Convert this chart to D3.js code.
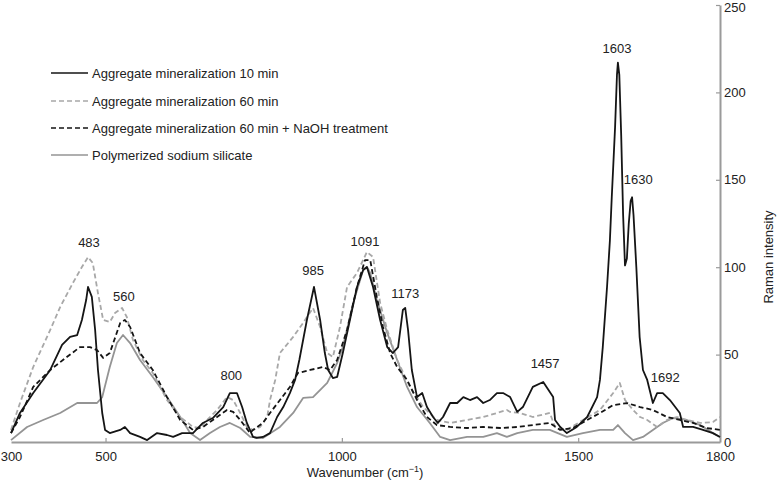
<!DOCTYPE html>
<html><head><meta charset="utf-8">
<script src="https://cdn.jsdelivr.net/npm/d3@7"></script>
<style>
html,body{margin:0;padding:0;background:#fff;}
text{font-family:"Liberation Sans",Arial,sans-serif;fill:#222;}
</style></head>
<body><svg id="c" width="777" height="481"></svg>
<script>
const xTicks = [300, 500, 1000, 1500, 1800];
const yTicks = [0, 50, 100, 150, 200, 250];
const seriesNames = ["Aggregate mineralization 10 min","Aggregate mineralization 60 min","Aggregate mineralization 60 min + NaOH treatment","Polymerized sodium silicate"];

const agg10 = [[300,5.1],[319,16.6],[347,28],[383,41.2],[408,55.5],[425,60.1],[440,61.2],[450,69.8],[459,81.2],[463,88.7],[471,83],[478,64.1],[484,41.2],[493,16.6],[499,6.9],[509,5.1],[531,6.9],[541,8.6],[552,5.1],[573,2.9],[588,1.1],[609,5.1],[630,4],[643,2.9],[662,5.1],[685,5.1],[706,10.9],[727,13.7],[749,20],[763,28],[778,28],[789,20],[799,10.9],[812,2.9],[820,2.3],[833,2.9],[848,5.1],[863,14.3],[876,20],[890,28],[901,35.5],[910,46.9],[926,69.8],[941,88.7],[954,69.8],[964,50.9],[971,41.2],[981,36.6],[990,37.2],[1002,50.9],[1017,69.8],[1032,88.7],[1045,98.4],[1053,100.1],[1066,88.7],[1081,69.8],[1096,54.3],[1108,50.9],[1119,54.3],[1129,75.5],[1134,76.7],[1140,64.1],[1148,41.2],[1159,25.7],[1170,28],[1180,20],[1193,14.3],[1203,10.9],[1214,14.3],[1229,22.3],[1244,22.3],[1257,25.7],[1271,24],[1286,25.7],[1299,22.3],[1313,24],[1328,28],[1341,28],[1356,25.7],[1371,17.2],[1383,20],[1404,31.5],[1426,34.3],[1447,25.7],[1451,12.6],[1462,8.6],[1476,5.1],[1497,8.6],[1519,14.3],[1540,25.7],[1546,35.5],[1552,54.3],[1561,88.7],[1567,115],[1571,140],[1574,157],[1578,180],[1582,210],[1584,217],[1587,210],[1591,175],[1595,130],[1599,101],[1603,105],[1607,125],[1611,138],[1614,140],[1617,130],[1623,100],[1630,60],[1637,41.2],[1646,35.5],[1658,22.3],[1667,28],[1679,28],[1694,24],[1715,16.6],[1722,8.6],[1743,8.6],[1764,6.9],[1785,5.1],[1800,2.9]];

const agg60 = [[300,6.9],[319,22.3],[347,42.9],[383,64.1],[404,77.2],[431,91],[450,100.1],[463,105.8],[473,102.4],[484,85.2],[495,69.8],[509,68.6],[520,73.8],[535,76.7],[545,71.5],[558,58.4],[579,46.9],[600,39.5],[630,24],[658,14.3],[685,8.6],[700,8],[715,12.6],[736,18.3],[757,25.7],[770,24],[785,16.6],[799,8.6],[812,6.9],[827,8.6],[842,14.3],[848,24],[859,35.5],[869,50.9],[897,60.1],[918,68.1],[939,76.7],[954,65.8],[969,50.9],[981,48.6],[996,65.8],[1011,88.7],[1032,96.7],[1053,108.7],[1066,105.8],[1081,79.5],[1096,64.1],[1117,46.9],[1144,31.5],[1172,20],[1201,12.6],[1229,10.9],[1265,12.6],[1299,14.3],[1328,16.6],[1349,18.3],[1356,17.2],[1377,16.6],[1404,14.3],[1440,16.6],[1451,8.6],[1476,6.9],[1510,12.6],[1546,18.3],[1574,28],[1588,33.8],[1599,24],[1616,18.3],[1631,14.3],[1646,12.6],[1667,8.6],[1688,12.6],[1709,14.3],[1730,12.6],[1758,10.9],[1785,11.4],[1800,14.3]];

const aggNaOH = [[300,5.1],[319,14.3],[347,31.5],[383,41.2],[418,48.6],[446,54.3],[467,54.3],[482,52.6],[495,48.1],[509,50.9],[531,68.1],[541,69.8],[552,65.8],[573,50.9],[600,41.2],[630,25.7],[658,12.6],[685,6.9],[706,8.6],[736,14.3],[757,18.3],[770,17.2],[785,12.6],[806,5.1],[812,6.9],[833,10.9],[848,16.6],[869,24],[890,31.5],[907,39.5],[933,41.2],[960,42.9],[975,41.2],[990,46.9],[1011,64.1],[1032,88.7],[1049,104.1],[1060,104.1],[1074,83],[1087,65.8],[1102,50.9],[1117,42.9],[1138,35.5],[1159,24],[1180,14.3],[1201,9.7],[1229,8.6],[1265,8],[1299,8.6],[1335,8],[1371,8.6],[1404,9.7],[1440,10.9],[1462,6.9],[1489,8],[1519,12.6],[1546,16.6],[1574,21.1],[1603,22.3],[1631,20],[1658,18.3],[1688,14.3],[1715,12.6],[1743,10.9],[1772,8],[1800,6.9]];

const silicate = [[300,1.1],[334,8.6],[368,12.6],[404,16.6],[440,22.3],[467,22.3],[482,22.3],[493,25.7],[509,42.9],[524,56.6],[537,61.2],[552,56.6],[573,46.9],[600,37.2],[630,25.7],[658,14.3],[679,5.1],[700,1.1],[721,5.1],[742,8.6],[763,10.9],[785,8],[806,2.9],[833,2.3],[869,8.6],[897,16.6],[918,25.2],[939,25.7],[969,33.8],[990,45.2],[1002,54.3],[1024,79.5],[1045,98.4],[1053,100.1],[1060,96.7],[1074,81.2],[1096,62.4],[1117,46.9],[1138,31.5],[1159,20],[1186,10.9],[1208,2.9],[1229,1.1],[1265,2.9],[1299,2.9],[1328,5.1],[1349,2.9],[1371,5.1],[1404,6.9],[1440,6.9],[1476,2.9],[1510,5.1],[1546,6.9],[1574,6.9],[1584,9.7],[1599,5.1],[1616,1.1],[1637,2.9],[1658,6.9],[1679,10.9],[1701,13.7],[1730,12.6],[1758,9.7],[1785,5.1],[1800,2.9]];

const peakLabels = ["483","560","800","985","1091","1173","1457","1603","1630","1692"];
const peakX = [465,539,766,939,1049,1134,1430,1582,1627,1684];
const peakY = [114,83,38,98,115,85,45,225,150,37];

const svg = d3.select("#c");
const x = d3.scaleLinear().domain([300,1800]).range([11,720]);
const y = d3.scaleLinear().domain([0,250]).range([442,5]);
const axisColor = "#9a9a9a";

// x axis
const gx = svg.append("g").attr("transform","translate(0,442)")
  .call(d3.axisBottom(x).tickValues(xTicks).tickSize(0).tickPadding(10).tickFormat(d3.format("d")));
gx.select(".domain").attr("stroke",axisColor).attr("stroke-width",2);
gx.selectAll("text").attr("font-size",13).style("fill","#222").attr("font-family",null);
gx.selectAll(".tick").filter(d=>d>300 && d<1800).append("line").attr("y1",0).attr("y2",-4).attr("stroke",axisColor).attr("stroke-width",1.2);

// y axis
const gy = svg.append("g").attr("transform","translate(720,0)")
  .call(d3.axisRight(y).tickValues(yTicks).tickSize(0).tickPadding(4));
gy.select(".domain").attr("stroke",axisColor).attr("stroke-width",2);
gy.selectAll("text").attr("font-size",13).style("fill","#222").attr("font-family",null);
gy.selectAll(".tick").filter(d=>d>0).append("line").attr("x1",0).attr("x2",-4).attr("stroke",axisColor).attr("stroke-width",1.2);
gy.selectAll(".tick").filter(d=>d===250).select("text").attr("dy","0.5em");

svg.append("text").attr("x",365).attr("y",477).attr("text-anchor","middle").attr("font-size",13)
  .html('Wavenumber (cm<tspan dy="-5" font-size="9">−1</tspan><tspan dy="5">)</tspan>');
svg.append("text").attr("transform","translate(773,257) rotate(-90)").attr("text-anchor","middle").attr("font-size",13).text("Raman intensity");

const line = d3.line().x(d=>x(d[0])).y(d=>y(d[1]));
const styles = [
  {data:silicate, color:"#949494", dash:null, w:1.8},
  {data:agg60, color:"#a8a8a8", dash:"5,3", w:1.8},
  {data:aggNaOH, color:"#151515", dash:"5,3", w:1.8},
  {data:agg10, color:"#151515", dash:null, w:1.8}
];
styles.forEach(s=>{
  svg.append("path").datum(s.data).attr("d",line).attr("fill","none")
    .attr("stroke",s.color).attr("stroke-width",s.w).attr("stroke-linejoin","round")
    .attr("stroke-dasharray",s.dash);
});

// legend
const legStyles = [styles[3],styles[1],styles[2],styles[0]];
const legY = [73,101,128,155];
seriesNames.forEach((n,i)=>{
  svg.append("line").attr("x1",51).attr("x2",88).attr("y1",legY[i]).attr("y2",legY[i])
    .attr("stroke",legStyles[i].color).attr("stroke-width",1.6).attr("stroke-dasharray",legStyles[i].dash);
  svg.append("text").attr("x",92).attr("y",legY[i]).attr("dy","0.35em").attr("font-size",13).text(n);
});

// peak labels
peakLabels.forEach((t,i)=>{
  svg.append("text").attr("x",x(peakX[i])).attr("y",y(peakY[i])).attr("dy","0.35em")
    .attr("text-anchor","middle").attr("font-size",13).text(t);
});
</script></body></html>
